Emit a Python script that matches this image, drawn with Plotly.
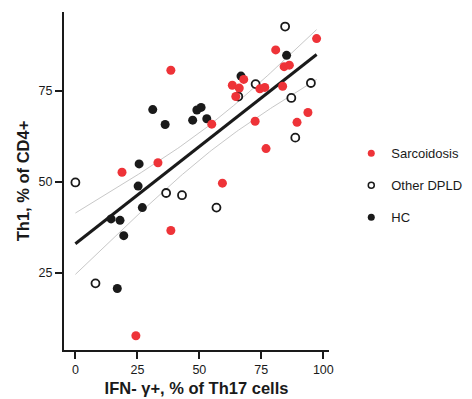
import numpy as np
import plotly.graph_objects as go

# Sarcoidosis
sarc_x = [38.5, 97.3, 80.8, 84.2, 86.3, 67.9, 63.3, 66.1, 64.7, 74.4, 76.4, 83.6,
          55.0, 72.5, 93.8, 89.4, 76.9, 59.3, 18.8, 33.3, 38.5, 24.4]
sarc_y = [80.6, 89.3, 86.2, 81.6, 82.0, 78.1, 76.5, 75.7, 73.4, 75.5, 75.9, 76.2,
          65.8, 66.6, 69.0, 66.3, 59.1, 49.6, 52.6, 55.2, 36.6, 7.7]
# Other DPLD
dpld_x = [84.6, 72.7, 65.7, 95.0, 87.1, 88.7, 56.9, 0.0, 36.6, 43.0, 8.1]
dpld_y = [92.6, 76.8, 73.4, 77.1, 73.0, 62.1, 42.9, 49.8, 46.9, 46.3, 22.1]
# HC
hc_x = [31.2, 36.2, 47.3, 49.0, 50.7, 53.0, 66.8, 85.2, 25.7, 25.3, 27.0, 14.4, 18.0, 19.5, 16.9]
hc_y = [69.8, 65.7, 66.9, 69.7, 70.4, 67.3, 79.0, 84.7, 54.9, 48.8, 42.9, 39.8, 39.4, 35.2, 20.7]

x_ticks = [0, 25, 50, 75, 100]
y_ticks = [25, 50, 75]

all_x = np.array(sarc_x + dpld_x + hc_x)
all_y = np.array(sarc_y + dpld_y + hc_y)
n = len(all_x)
slope, intercept = np.polyfit(all_x, all_y, 1)
xf = np.linspace(all_x.min(), all_x.max(), 100)
yf = intercept + slope * xf
resid = all_y - (intercept + slope * all_x)
s = np.sqrt(np.sum(resid ** 2) / (n - 2))
sxx = np.sum((all_x - all_x.mean()) ** 2)
tcrit = 2.013
half = tcrit * s * np.sqrt(1 / n + (xf - all_x.mean()) ** 2 / sxx)

fig = go.Figure()
band_style = dict(color="#c8c8c8", width=1)
fig.add_trace(go.Scatter(x=xf, y=yf + half, mode="lines", line=band_style, showlegend=False, hoverinfo="skip"))
fig.add_trace(go.Scatter(x=xf, y=yf - half, mode="lines", line=band_style, showlegend=False, hoverinfo="skip"))
fig.add_trace(go.Scatter(x=xf, y=yf, mode="lines", line=dict(color="#1a1a1a", width=3), showlegend=False, hoverinfo="skip"))

pt = 9
fig.add_trace(go.Scatter(x=dpld_x, y=dpld_y, mode="markers", showlegend=False,
                         marker=dict(size=pt - 1, color="white", line=dict(color="#1a1a1a", width=1.8))))
fig.add_trace(go.Scatter(x=hc_x, y=hc_y, mode="markers", showlegend=False,
                         marker=dict(size=pt, color="#1a1a1a", line=dict(width=0))))
fig.add_trace(go.Scatter(x=sarc_x, y=sarc_y, mode="markers", showlegend=False,
                         marker=dict(size=pt, color="#ee3338", line=dict(width=0))))

# legend entries
fig.add_trace(go.Scatter(x=[None], y=[None], mode="markers", name="Sarcoidosis", legendgroup="a",
                         marker=dict(size=7, color="#ee3338")))
fig.add_trace(go.Scatter(x=[None], y=[None], mode="markers", name="Other DPLD", legendgroup="b",
                         marker=dict(size=6, color="white", line=dict(color="#1a1a1a", width=1.5))))
fig.add_trace(go.Scatter(x=[None], y=[None], mode="markers", name="HC", legendgroup="c",
                         marker=dict(size=7, color="#1a1a1a")))

axis_common = dict(showgrid=False, zeroline=False, showline=True, linecolor="#1a1a1a", linewidth=2,
                   ticks="outside", ticklen=7, tickwidth=2, tickcolor="#1a1a1a", automargin=False,
                   tickfont=dict(family="Liberation Sans, Arial", size=12.5, color="#1a1a1a"))
fig.update_xaxes(range=[-4.6, 102.3], tickvals=x_ticks, ticktext=[str(v) for v in x_ticks],
                 title=dict(text="<b>IFN- γ+, % of Th17 cells</b>", standoff=6,
                            font=dict(family="Liberation Sans, Arial", size=16.5, color="#1a1a1a")),
                 **axis_common)
fig.update_yaxes(range=[3.8, 96.6], tickvals=y_ticks, ticktext=[str(v) for v in y_ticks],
                 title=dict(text="<b>Th1, % of CD4+</b>", standoff=5,
                            font=dict(family="Liberation Sans, Arial", size=16.5, color="#1a1a1a")),
                 **axis_common)
fig.update_layout(
    width=464, height=391,
    margin=dict(l=56, r=143, t=4, b=49, autoexpand=False),
    plot_bgcolor="white", paper_bgcolor="white",
    font=dict(family="Liberation Sans, Arial", color="#1a1a1a"),
    legend=dict(x=1.084, y=0.626, xanchor="left", yanchor="top", tracegroupgap=12,
                font=dict(size=13, family="Liberation Sans, Arial", color="#1a1a1a")),
)
fig.update_xaxes(tickprefix="<b>", ticksuffix="</b>")
fig.update_yaxes(tickprefix="<b>", ticksuffix="</b>")
fig.write_html("out.html")
